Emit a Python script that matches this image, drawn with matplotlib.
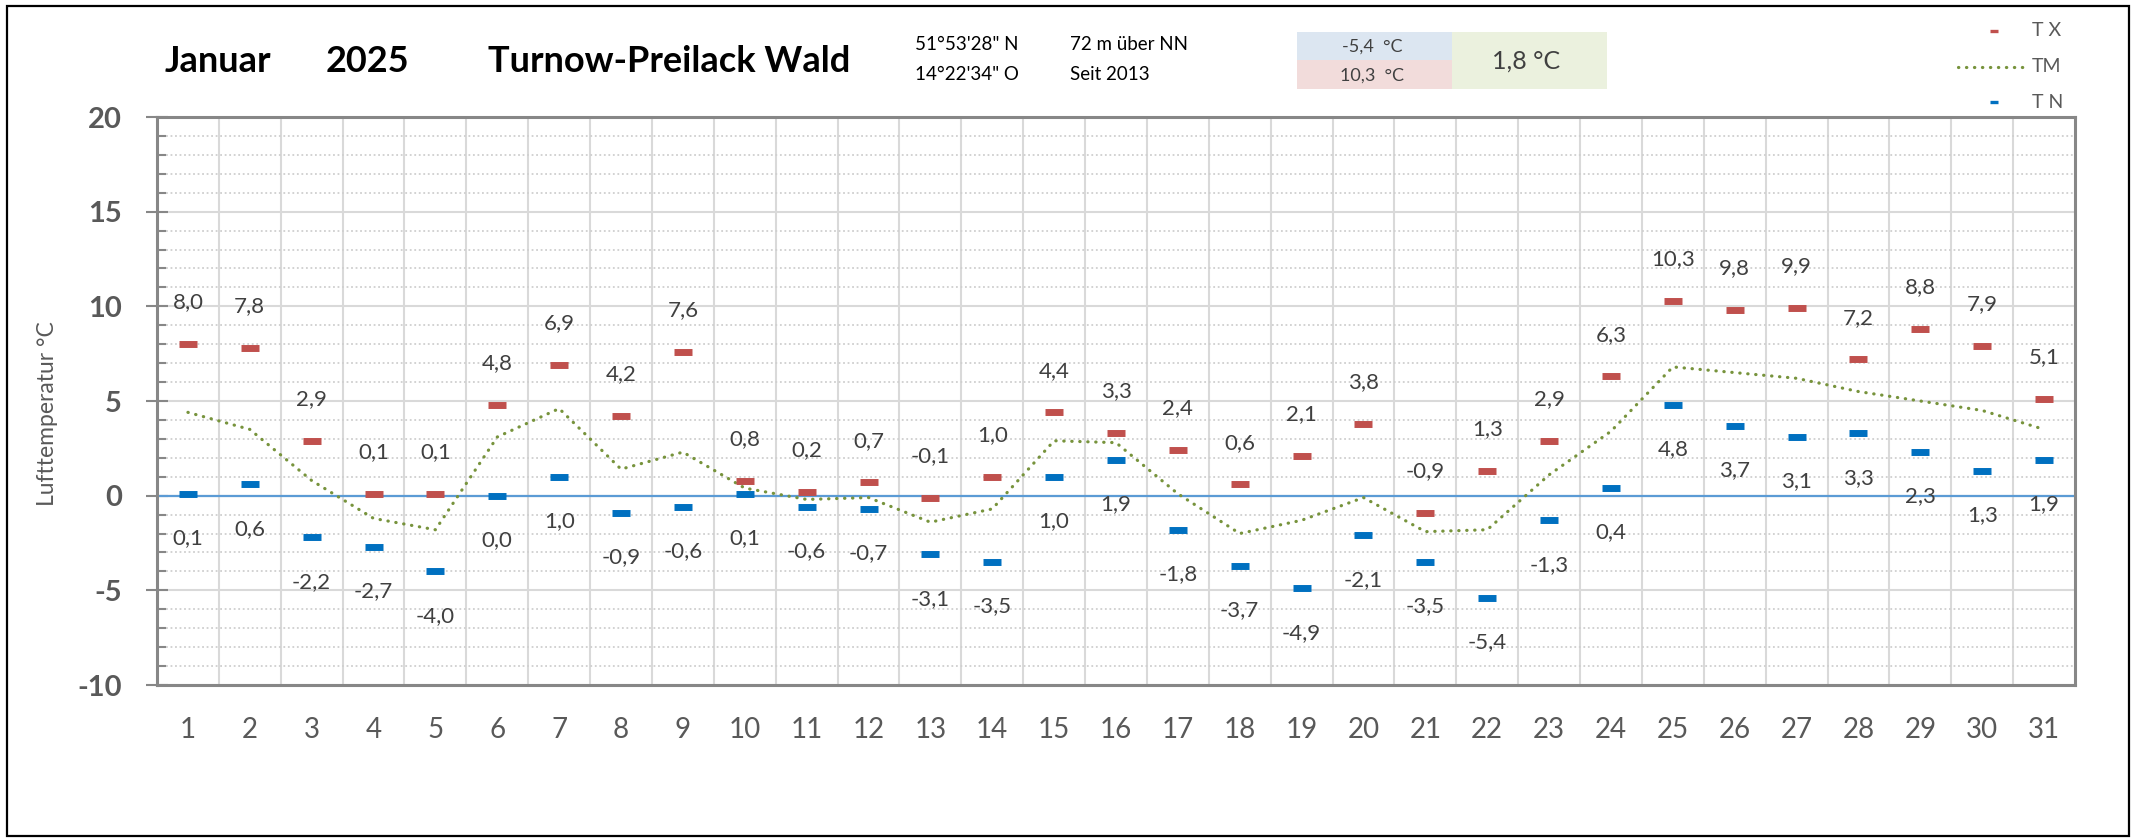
import numpy as np
import matplotlib
matplotlib.use("Agg")
import matplotlib.pyplot as plt
from matplotlib.lines import Line2D
from matplotlib.patches import Rectangle

plt.rcParams['font.family'] = ['Lato', 'DejaVu Sans']
plt.rcParams['axes.unicode_minus'] = False

# daily values, January 2025
days = list(range(1, 32))
tx = [8.0, 7.8, 2.9, 0.1, 0.1, 4.8, 6.9, 4.2, 7.6, 0.8, 0.2, 0.7, -0.1, 1.0, 4.4, 3.3,
      2.4, 0.6, 2.1, 3.8, -0.9, 1.3, 2.9, 6.3, 10.3, 9.8, 9.9, 7.2, 8.8, 7.9, 5.1]
tn = [0.1, 0.6, -2.2, -2.7, -4.0, 0.0, 1.0, -0.9, -0.6, 0.1, -0.6, -0.7, -3.1, -3.5, 1.0, 1.9,
      -1.8, -3.7, -4.9, -2.1, -3.5, -5.4, -1.3, 0.4, 4.8, 3.7, 3.1, 3.3, 2.3, 1.3, 1.9]
tm = [4.4, 3.5, 0.8, -1.2, -1.8, 3.1, 4.6, 1.4, 2.3, 0.4, -0.2, -0.1, -1.4, -0.7, 2.9, 2.8,
      0.1, -2.0, -1.3, -0.1, -1.9, -1.8, 1.1, 3.4, 6.8, 6.5, 6.2, 5.5, 5.0, 4.5, 3.5]

month = 'Januar'
year = '2025'
station = 'Turnow-Preilack Wald'
coords = ['51°53\'28" N', '14°22\'34" O']
site_info = ['72 m über NN', 'Seit 2013']
tn_min = '-5,4  °C'
tx_max = '10,3  °C'
tm_mean = '1,8 °C'

c_tx = '#C0504D'
c_tn = '#0070C0'
c_tm = '#77933C'
grey = '#595959'

W, H = 2140, 839
fig = plt.figure(figsize=(W / 100, H / 100), dpi=100)


def fx(x):
    return x / W


def fy(y):
    return 1 - y / H


# outer frame
fig.patches.append(Rectangle((fx(7), fy(836)), fx(2129) - fx(7), fy(6) - fy(836),
                             transform=fig.transFigure, fill=False, ec='black', lw=1.6))

ax = fig.add_axes([fx(157), fy(685), fx(2075) - fx(157), fy(117) - fy(685)])

ax.set_xlim(0.5, 31.5)
ax.set_ylim(-10, 20)

# grid
ax.set_yticks(np.arange(-10, 21, 5))
ax.set_yticks(np.arange(-10, 21, 1), minor=True)
ax.set_xticks(days)
ax.set_xticks(np.arange(1.5, 31, 1), minor=True)
ax.grid(which='minor', axis='x', color='#D9D9D9', lw=1.5)
ax.grid(which='major', axis='y', color='#D9D9D9', lw=1.5)
ax.grid(which='minor', axis='y', color='#CFCFCF', lw=1.3, ls=(0, (1, 1.5)))
ax.set_axisbelow(True)
ax.axhline(0, color='#5B9BD5', lw=1.6, zorder=1)

for s in ax.spines.values():
    s.set_color('#878787')
    s.set_linewidth(2.2)

ax.tick_params(axis='y', which='major', direction='inout', length=16.5, width=1.5,
               color='#878787', pad=17, labelsize=21, labelcolor=grey)
ax.tick_params(axis='y', which='minor', direction='in', length=6.5, width=1.5, color='#878787')
ax.tick_params(axis='x', which='both', length=0, pad=23, labelsize=20, labelcolor=grey)
for lab in ax.get_yticklabels():
    lab.set_fontweight('bold')

# series
ax.plot(days, tm, color=c_tm, lw=2.3, ls=(0, (0.1, 2.4)), dash_capstyle='round', zorder=3)
ax.plot(days, tx, ls='none', marker='_', ms=13, mew=5, color=c_tx, zorder=4)
ax.plot(days, tn, ls='none', marker='_', ms=13, mew=5, color=c_tn, zorder=4)


def fmt(v):
    return f'{v:.1f}'.replace('.', ',')


for d, v in zip(days, tx):
    ax.annotate(fmt(v), (d, v), xytext=(0, 30), textcoords='offset points',
                ha='center', va='center', fontsize=16, color='#404040', zorder=5)
for d, v in zip(days, tn):
    ax.annotate(fmt(v), (d, v), xytext=(0, -32), textcoords='offset points',
                ha='center', va='center', fontsize=16, color='#404040', zorder=5)

fig.text(fx(48), fy(414), 'Lufttemperatur °C', rotation=90, ha='center', va='center',
         fontsize=16.5, color=grey)

# header
fig.text(fx(165), fy(62), month, fontsize=26, fontweight='bold', va='center')
fig.text(fx(326), fy(62), year, fontsize=26, fontweight='bold', va='center')
fig.text(fx(488), fy(62), station, fontsize=26, fontweight='bold', va='center')
fig.text(fx(915), fy(45), coords[0], fontsize=13.5, va='center')
fig.text(fx(915), fy(75), coords[1], fontsize=13.5, va='center')
fig.text(fx(1070), fy(45), site_info[0], fontsize=13.5, va='center')
fig.text(fx(1070), fy(75), site_info[1], fontsize=13.5, va='center')

# summary box
boxes = [(1297, 32, 1452, 60, '#DCE6F1'), (1297, 60, 1452, 89, '#F2DCDB'),
         (1452, 32, 1607, 89, '#EBF1DE')]
for x0, y0, x1, y1, col in boxes:
    fig.patches.append(Rectangle((fx(x0), fy(y1)), fx(x1) - fx(x0), fy(y0) - fy(y1),
                                 transform=fig.transFigure, fc=col, ec='none'))
fig.text(fx(1372), fy(47), tn_min, fontsize=13, color='#404040', ha='center', va='center')
fig.text(fx(1372), fy(76), tx_max, fontsize=13, color='#404040', ha='center', va='center')
fig.text(fx(1526), fy(61), tm_mean, fontsize=18, color='#404040', ha='center', va='center')

# legend
fig.add_artist(Line2D([fx(1994)], [fy(31)], ls='none', marker='_', ms=5.5, mew=2.4,
                      color=c_tx, transform=fig.transFigure))
fig.add_artist(Line2D([fx(1958), fx(2025)], [fy(67), fy(67)], color=c_tm, lw=2.3,
                      ls=(0, (0.1, 2.4)), dash_capstyle='round', transform=fig.transFigure))
fig.add_artist(Line2D([fx(1994)], [fy(102)], ls='none', marker='_', ms=5.5, mew=2.4,
                      color=c_tn, transform=fig.transFigure))
fig.text(fx(2032), fy(31), 'T X', fontsize=14, color=grey, va='center')
fig.text(fx(2032), fy(67), 'TM', fontsize=14, color=grey, va='center')
fig.text(fx(2032), fy(102), 'T N', fontsize=14, color=grey, va='center')

fig.savefig('out.png', dpi=100)
